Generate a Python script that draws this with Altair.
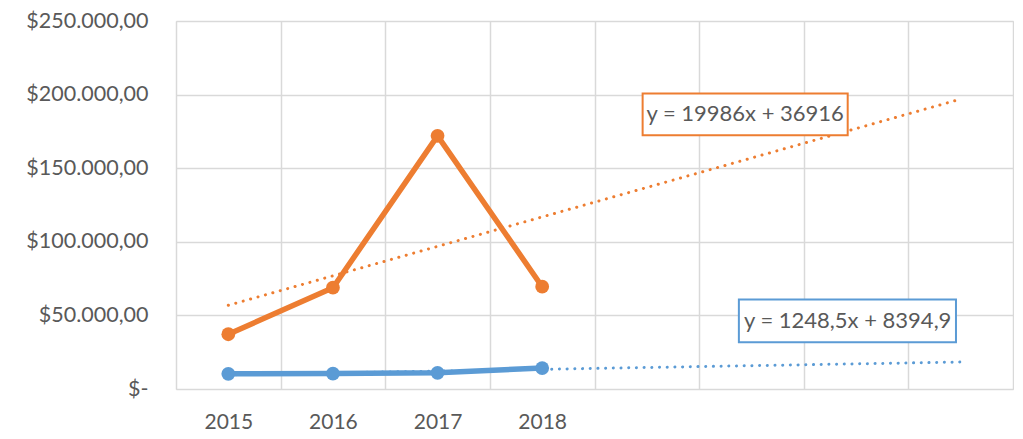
import altair as alt
import pandas as pd

# ---- data ----
years = [2015, 2016, 2017, 2018]
orange_values = [37200, 68800, 172000, 69500]
blue_values = [10300, 10500, 11000, 14250]
series_names = ["Serie2", "Serie1"]
series_colors = ["#ED7D31", "#5B9BD5"]

# trendline equation labels (as shown on the chart)
eq_texts = ["y = 19986x + 36916", "y = 1248,5x + 8394,9"]
eq_series = ["Serie2", "Serie1"]
# label box placement in data units (x in year units, y in $)
eq_box_x1 = [2018.96, 2019.88]
eq_box_x2 = [2020.92, 2021.955]
eq_box_y1 = [200700, 60800]
eq_box_y2 = [172300, 31750]
eq_text_x = [2019.94, 2020.92]
eq_text_y = [186500, 46300]

forecast_end = 2022
x_domain = [2014.5, 2022.5]

rows = []
for name, vals in zip(series_names, [orange_values, blue_values]):
    for yr, v in zip(years, vals):
        rows.append({"year": yr, "value": v, "series": name})
df = pd.DataFrame(rows)

ann = pd.DataFrame({
    "series": eq_series, "text": eq_texts,
    "x1": eq_box_x1, "x2": eq_box_x2, "y1": eq_box_y1, "y2": eq_box_y2,
    "tx": eq_text_x, "ty": eq_text_y,
})

FONT = "Lato"
GRID = "#d9d9d9"
TXT = "#595959"

color_scale = alt.Scale(domain=series_names, range=series_colors)

x_vals = [x_domain[0] + 0.5 * i for i in range(int((x_domain[1] - x_domain[0]) * 2) + 1)]
x_axis = alt.Axis(
    values=x_vals, grid=True, gridColor=GRID, gridWidth=1.5,
    gridOpacity={"condition": {"test": "datum.value % 1 == 0", "value": 0}, "value": 1},
    ticks=False, domain=False, title=None,
    labelExpr="(datum.value % 1 == 0 && datum.value <= 2018) ? '' + datum.value : ''",
    labelFont=FONT, labelFontSize=21, labelColor=TXT, labelPadding=22,
)
y_axis = alt.Axis(
    values=list(range(0, 250001, 50000)), grid=True, gridColor=GRID, gridWidth=1.5,
    ticks=False, domain=False, title=None,
    labelExpr="datum.value == 0 ? '$-\u00a0\u00a0' : '$' + format(datum.value / 1000, 'd') + '.000,00'",
    labelFont=FONT, labelFontSize=21.5, labelColor=TXT, labelPadding=28,
)

x_enc = alt.X("year:Q", scale=alt.Scale(domain=x_domain, nice=False, zero=False), axis=x_axis)
y_enc = alt.Y("value:Q", scale=alt.Scale(domain=[0, 250000], nice=False), axis=y_axis)

base = alt.Chart(df)

trend = base.transform_regression(
    "year", "value", groupby=["series"], extent=[years[0], forecast_end], method="linear"
).mark_line(strokeWidth=3, strokeDash=[0.1, 7.6], strokeCap="round").encode(
    x=x_enc, y=y_enc,
    color=alt.Color("series:N", scale=color_scale, legend=None),
    detail="series:N",
)

lines = base.mark_line(strokeWidth=5.5, strokeJoin="round", strokeCap="round").encode(
    x=x_enc, y=y_enc,
    color=alt.Color("series:N", scale=color_scale, legend=None),
)
points = base.mark_circle(size=190, opacity=1).encode(
    x=x_enc, y=y_enc,
    color=alt.Color("series:N", scale=color_scale, legend=None),
)

boxes = alt.Chart(ann).mark_rect(fill="white", strokeWidth=2).encode(
    x=alt.X("x1:Q", scale=alt.Scale(domain=x_domain, nice=False, zero=False)),
    x2="x2:Q",
    y=alt.Y("y1:Q", scale=alt.Scale(domain=[0, 250000], nice=False)),
    y2="y2:Q",
    stroke=alt.Stroke("series:N", scale=color_scale, legend=None),
)
labels = alt.Chart(ann).mark_text(
    font=FONT, fontSize=22, color=TXT, align="center", baseline="middle"
).encode(
    x=alt.X("tx:Q", scale=alt.Scale(domain=x_domain, nice=False, zero=False)),
    y=alt.Y("ty:Q", scale=alt.Scale(domain=[0, 250000], nice=False)),
    text="text:N",
)

chart = alt.layer(trend, lines, points, boxes, labels).properties(
    width=837, height=368,
    autosize=alt.AutoSizeParams(type="none"),
    padding={"left": 168, "top": 13, "right": 1, "bottom": 42},
).configure_view(stroke=None).configure(background="white")

chart.save("out.html", embed_options={"renderer": "svg", "actions": False})
